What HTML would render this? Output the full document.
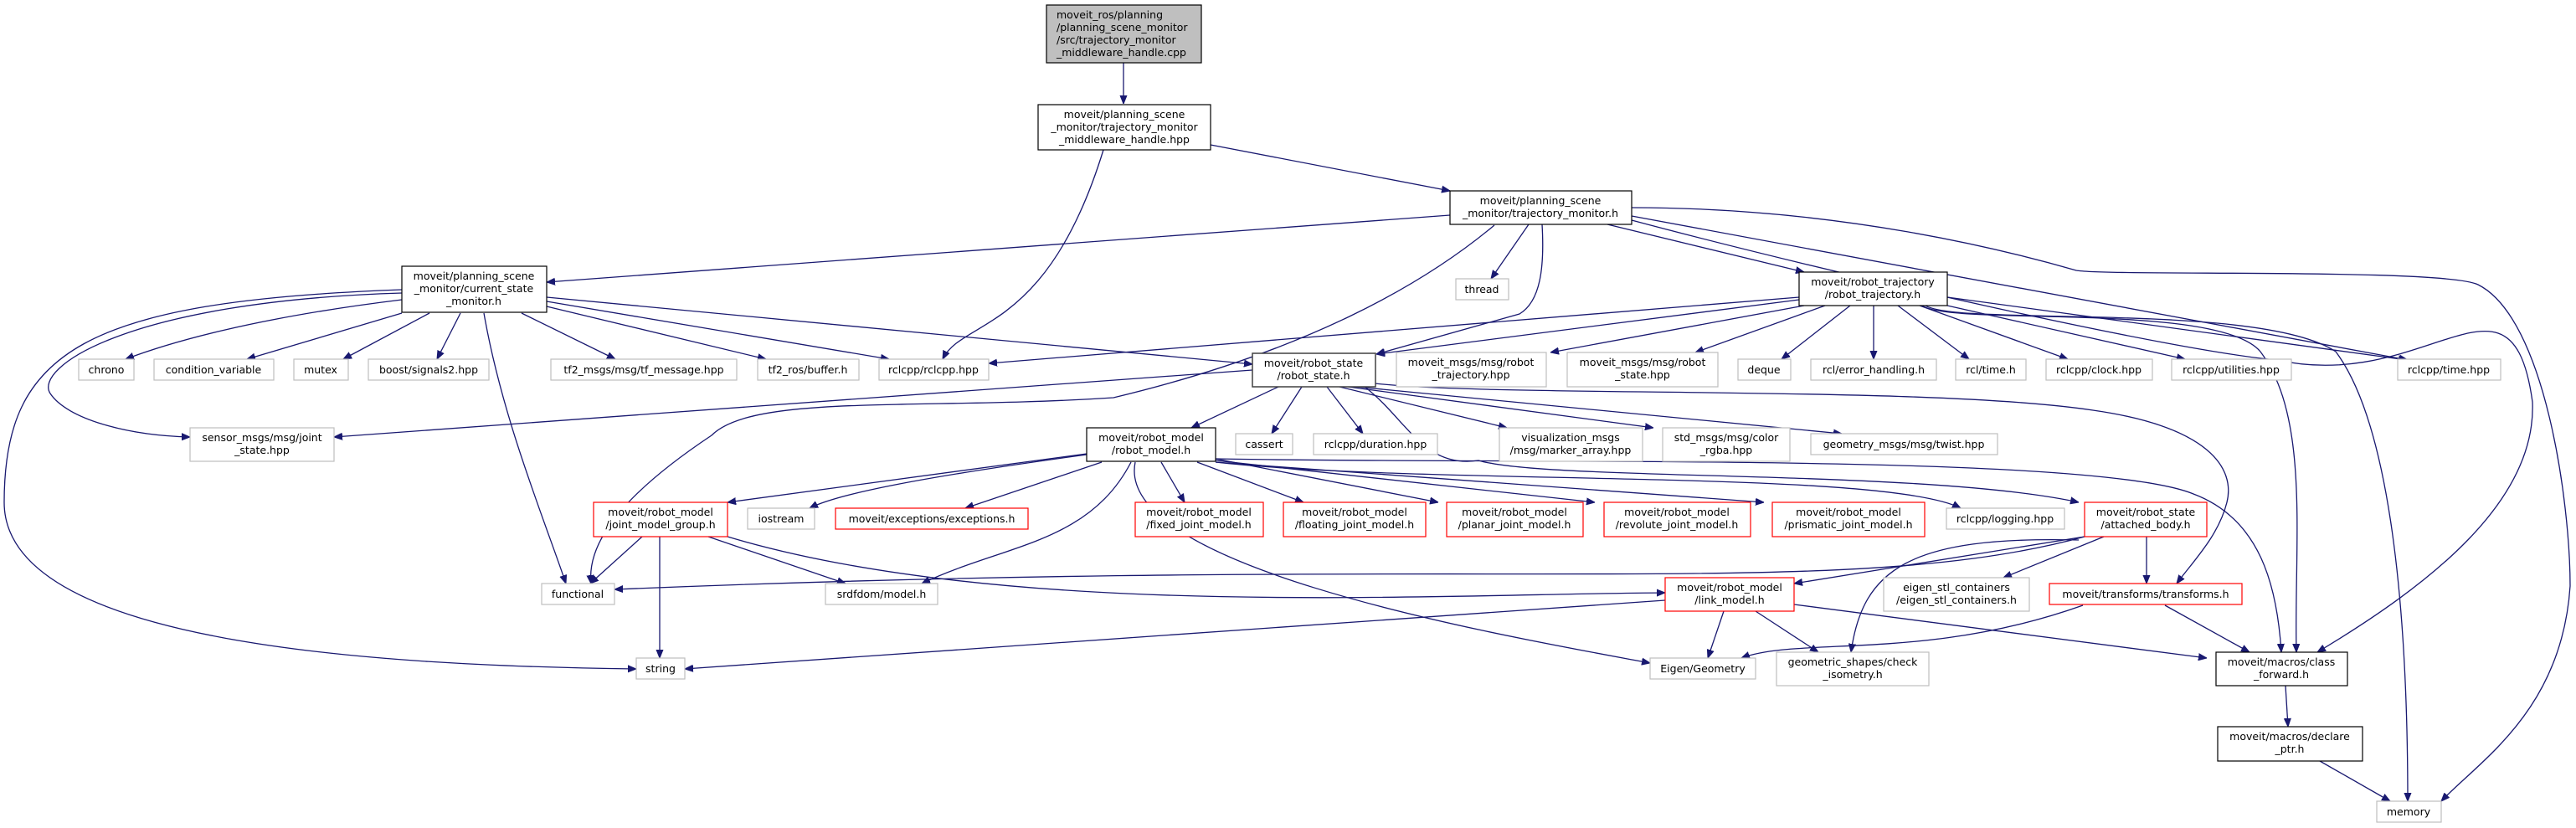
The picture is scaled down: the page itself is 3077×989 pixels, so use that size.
<!DOCTYPE html>
<html><head><meta charset="utf-8"><style>
html,body{margin:0;padding:0;background:#fff;}
svg{display:block;}
text{font-family:"DejaVu Sans","Liberation Sans",sans-serif;font-size:12.5px;fill:#000;}
.e{fill:none;stroke:#191970;stroke-width:1.3;}
</style></head><body>
<svg width="3077" height="989" viewBox="0 0 3077 989" xmlns="http://www.w3.org/2000/svg">
<defs>
<marker id="a" markerWidth="10" markerHeight="10" viewBox="0 0 10 10" refX="10" refY="5" orient="auto" markerUnits="userSpaceOnUse">
<path d="M0,1 L10,5 L0,9 z" fill="#191970" stroke="#191970"/>
</marker>
</defs>
<g class="e" marker-end="url(#a)">
<path d="M1342,75 L1342,124"/>
<path d="M1446,173 L1732,228"/>
<path d="M1318,179 C1250,400 1150,380 1126,429"/>
<path d="M1732,257 L653,337"/>
<path d="M1826,268 L1781,333"/>
<path d="M1920,268 L2155,325"/>
<path d="M1842,268 C1845,320 1840,360 1815,375 L1644,423"/>
<path d="M1785,269 C1700,340 1560,420 1330,475 C1100,490 900,470 850,520 C760,580 700,640 706,697"/>
<path d="M1949,248 C2200,248 2400,300 2480,323 C2520,330 2920,320 2960,340 C3040,380 3070,600 3070,700 C3060,850 2960,910 2916,957"/>
<path d="M1949,258 L2876,430"/>
<path d="M1949,263 C2200,330 2600,420 2720,430 C2900,470 3000,300 3025,480 C3030,600 2900,700 2768,779"/>
<path d="M480,358 C300,380 200,410 150,429"/>
<path d="M480,374 L295,429"/>
<path d="M513,374 L410,429"/>
<path d="M550,374 L522,429"/>
<path d="M623,374 L735,429"/>
<path d="M653,366 L915,429"/>
<path d="M653,360 L1062,429"/>
<path d="M653,355 L1496,435"/>
<path d="M578,374 C600,500 650,620 676,697"/>
<path d="M480,350 C150,360 40,440 60,470 C80,500 150,520 227,522"/>
<path d="M480,346 C100,360 5,420 5,600 C5,770 450,795 760,799"/>
<path d="M2149,355 L1181,434"/>
<path d="M2149,358 L1644,423"/>
<path d="M2155,365 L1852,421"/>
<path d="M2180,365 L2025,421"/>
<path d="M2210,365 L2128,429"/>
<path d="M2238,365 L2238,429"/>
<path d="M2267,365 L2352,429"/>
<path d="M2293,365 L2470,429"/>
<path d="M2326,365 L2610,429"/>
<path d="M2326,355 L2875,430"/>
<path d="M2296,365 C2330,390 2650,360 2700,420 C2760,500 2740,650 2743,779"/>
<path d="M2300,365 C2340,390 2700,360 2790,420 C2850,500 2876,700 2876,957"/>
<path d="M1496,442 L399,522"/>
<path d="M1527,462 L1423,511"/>
<path d="M1555,462 L1519,518"/>
<path d="M1585,462 L1628,518"/>
<path d="M1600,462 L1800,511"/>
<path d="M1610,462 L1975,511"/>
<path d="M1620,462 L2200,518"/>
<path d="M1630,462 C1680,500 1700,560 1766,550 C1850,575 2300,560 2483,600"/>
<path d="M1642,458 C1800,475 2300,460 2500,490 C2640,510 2670,560 2660,600 C2650,640 2620,670 2600,697"/>
<path d="M1452,548 C1800,555 2500,540 2620,590 C2700,620 2720,700 2725,779"/>
<path d="M1298,542 L869,600"/>
<path d="M1298,543 C1100,570 1000,590 967,607"/>
<path d="M1316,552 L1153,607"/>
<path d="M1387,552 L1415,600"/>
<path d="M1430,552 L1557,600"/>
<path d="M1452,548 L1718,600"/>
<path d="M1452,550 L1905,600"/>
<path d="M1452,552 L2107,600"/>
<path d="M1452,552 C1700,580 2250,560 2342,607"/>
<path d="M1351,552 C1300,650 1200,650 1101,697"/>
<path d="M1356,552 C1330,680 1800,760 1971,792"/>
<path d="M869,641 C1200,740 1700,710 1989,708"/>
<path d="M2490,641 C2200,720 1800,660 734,704"/>
<path d="M767,641 L705,697"/>
<path d="M788,641 L788,786"/>
<path d="M846,641 L1010,697"/>
<path d="M2490,641 L2143,697"/>
<path d="M2483,645 C2280,640 2225,680 2211,779"/>
<path d="M2513,641 L2393,690"/>
<path d="M2564,641 L2564,697"/>
<path d="M2059,730 L2040,786"/>
<path d="M2097,730 L2172,779"/>
<path d="M2143,722 L2636,786"/>
<path d="M1989,717 L818,799"/>
<path d="M2488,723 C2300,790 2150,760 2080,786"/>
<path d="M2586,723 L2687,779"/>
<path d="M2730,819 L2733,868"/>
<path d="M2771,909 L2855,957"/>
</g>
<g stroke-width="1.2">
<rect x="1250" y="6" width="185" height="69" fill="#bfbfbf" stroke="#000"/>
<text x="1262" y="22">moveit_ros/planning</text>
<text x="1262" y="37">/planning_scene_monitor</text>
<text x="1262" y="52">/src/trajectory_monitor</text>
<text x="1262" y="67">_middleware_handle.cpp</text>
<rect x="1240" y="125" width="206" height="54" fill="#fff" stroke="#000"/>
<text x="1343" y="141" text-anchor="middle">moveit/planning_scene</text>
<text x="1343" y="156" text-anchor="middle">_monitor/trajectory_monitor</text>
<text x="1343" y="171" text-anchor="middle">_middleware_handle.hpp</text>
<rect x="1732" y="228" width="217" height="40" fill="#fff" stroke="#000"/>
<text x="1840" y="244" text-anchor="middle">moveit/planning_scene</text>
<text x="1840" y="259" text-anchor="middle">_monitor/trajectory_monitor.h</text>
<rect x="480" y="318" width="173" height="55" fill="#fff" stroke="#000"/>
<text x="566" y="334" text-anchor="middle">moveit/planning_scene</text>
<text x="566" y="349" text-anchor="middle">_monitor/current_state</text>
<text x="566" y="364" text-anchor="middle">_monitor.h</text>
<rect x="2149" y="325" width="177" height="40" fill="#fff" stroke="#000"/>
<text x="2237" y="341" text-anchor="middle">moveit/robot_trajectory</text>
<text x="2237" y="356" text-anchor="middle">/robot_trajectory.h</text>
<rect x="1496" y="422" width="147" height="40" fill="#fff" stroke="#404040" stroke-width="1.5"/>
<text x="1569" y="438" text-anchor="middle">moveit/robot_state</text>
<text x="1569" y="453" text-anchor="middle">/robot_state.h</text>
<rect x="1298" y="511" width="154" height="40" fill="#fff" stroke="#000"/>
<text x="1375" y="527" text-anchor="middle">moveit/robot_model</text>
<text x="1375" y="542" text-anchor="middle">/robot_model.h</text>
<rect x="2647" y="779" width="157" height="40" fill="#fff" stroke="#000"/>
<text x="2725" y="795" text-anchor="middle">moveit/macros/class</text>
<text x="2725" y="810" text-anchor="middle">_forward.h</text>
<rect x="2649" y="868" width="173" height="41" fill="#fff" stroke="#000"/>
<text x="2735" y="884" text-anchor="middle">moveit/macros/declare</text>
<text x="2735" y="899" text-anchor="middle">_ptr.h</text>
</g>
<g fill="#fff" stroke="#bfbfbf" stroke-width="1.2">
<rect x="94" y="429" width="66" height="25"/>
<rect x="184" y="429" width="143" height="25"/>
<rect x="351" y="429" width="65" height="25"/>
<rect x="440" y="429" width="144" height="25"/>
<rect x="658" y="429" width="222" height="25"/>
<rect x="905" y="429" width="121" height="25"/>
<rect x="1050" y="429" width="131" height="25"/>
<rect x="1739" y="333" width="63" height="25"/>
<rect x="1668" y="421" width="179" height="41"/>
<rect x="1872" y="421" width="180" height="41"/>
<rect x="2076" y="429" width="63" height="25"/>
<rect x="2163" y="429" width="150" height="25"/>
<rect x="2336" y="429" width="84" height="25"/>
<rect x="2444" y="429" width="127" height="25"/>
<rect x="2594" y="429" width="143" height="25"/>
<rect x="2864" y="429" width="123" height="25"/>
<rect x="227" y="511" width="172" height="40"/>
<rect x="1476" y="518" width="68" height="25"/>
<rect x="1569" y="518" width="148" height="25"/>
<rect x="1791" y="511" width="171" height="40"/>
<rect x="1986" y="511" width="152" height="40"/>
<rect x="2163" y="518" width="223" height="25"/>
<rect x="893" y="607" width="80" height="25"/>
<rect x="2325" y="607" width="141" height="25"/>
<rect x="647" y="697" width="87" height="25"/>
<rect x="986" y="697" width="134" height="25"/>
<rect x="2250" y="690" width="174" height="40"/>
<rect x="760" y="786" width="58" height="25"/>
<rect x="1971" y="786" width="126" height="25"/>
<rect x="2122" y="779" width="182" height="40"/>
<rect x="2839" y="957" width="77" height="25"/>
</g>
<g fill="#fff" stroke="#ff0000" stroke-width="1.2">
<rect x="709" y="600" width="160" height="41"/>
<rect x="998" y="607" width="230" height="25"/>
<rect x="1356" y="600" width="153" height="41"/>
<rect x="1533" y="600" width="170" height="41"/>
<rect x="1728" y="600" width="163" height="41"/>
<rect x="1916" y="600" width="175" height="41"/>
<rect x="2117" y="600" width="182" height="41"/>
<rect x="2490" y="600" width="146" height="41"/>
<rect x="1989" y="690" width="154" height="40"/>
<rect x="2448" y="697" width="230" height="25"/>
</g>
<g text-anchor="middle">
<text x="127" y="446">chrono</text>
<text x="255" y="446">condition_variable</text>
<text x="383" y="446">mutex</text>
<text x="512" y="446">boost/signals2.hpp</text>
<text x="769" y="446">tf2_msgs/msg/tf_message.hpp</text>
<text x="965" y="446">tf2_ros/buffer.h</text>
<text x="1115" y="446">rclcpp/rclcpp.hpp</text>
<text x="1770" y="350">thread</text>
<text x="1757" y="437">moveit_msgs/msg/robot</text>
<text x="1757" y="452">_trajectory.hpp</text>
<text x="1962" y="437">moveit_msgs/msg/robot</text>
<text x="1962" y="452">_state.hpp</text>
<text x="2107" y="446">deque</text>
<text x="2238" y="446">rcl/error_handling.h</text>
<text x="2378" y="446">rcl/time.h</text>
<text x="2507" y="446">rclcpp/clock.hpp</text>
<text x="2665" y="446">rclcpp/utilities.hpp</text>
<text x="2925" y="446">rclcpp/time.hpp</text>
<text x="313" y="527">sensor_msgs/msg/joint</text>
<text x="313" y="542">_state.hpp</text>
<text x="1510" y="535">cassert</text>
<text x="1643" y="535">rclcpp/duration.hpp</text>
<text x="1876" y="527">visualization_msgs</text>
<text x="1876" y="542">/msg/marker_array.hpp</text>
<text x="2062" y="527">std_msgs/msg/color</text>
<text x="2062" y="542">_rgba.hpp</text>
<text x="2274" y="535">geometry_msgs/msg/twist.hpp</text>
<text x="789" y="616">moveit/robot_model</text>
<text x="789" y="631">/joint_model_group.h</text>
<text x="933" y="624">iostream</text>
<text x="1113" y="624">moveit/exceptions/exceptions.h</text>
<text x="1432" y="616">moveit/robot_model</text>
<text x="1432" y="631">/fixed_joint_model.h</text>
<text x="1618" y="616">moveit/robot_model</text>
<text x="1618" y="631">/floating_joint_model.h</text>
<text x="1809" y="616">moveit/robot_model</text>
<text x="1809" y="631">/planar_joint_model.h</text>
<text x="2003" y="616">moveit/robot_model</text>
<text x="2003" y="631">/revolute_joint_model.h</text>
<text x="2208" y="616">moveit/robot_model</text>
<text x="2208" y="631">/prismatic_joint_model.h</text>
<text x="2395" y="624">rclcpp/logging.hpp</text>
<text x="2563" y="616">moveit/robot_state</text>
<text x="2563" y="631">/attached_body.h</text>
<text x="690" y="714">functional</text>
<text x="1053" y="714">srdfdom/model.h</text>
<text x="2066" y="706">moveit/robot_model</text>
<text x="2066" y="721">/link_model.h</text>
<text x="2337" y="706">eigen_stl_containers</text>
<text x="2337" y="721">/eigen_stl_containers.h</text>
<text x="2563" y="714">moveit/transforms/transforms.h</text>
<text x="789" y="803">string</text>
<text x="2034" y="803">Eigen/Geometry</text>
<text x="2213" y="795">geometric_shapes/check</text>
<text x="2213" y="810">_isometry.h</text>
<text x="2877" y="974">memory</text>
</g>
</svg>
</body></html>
